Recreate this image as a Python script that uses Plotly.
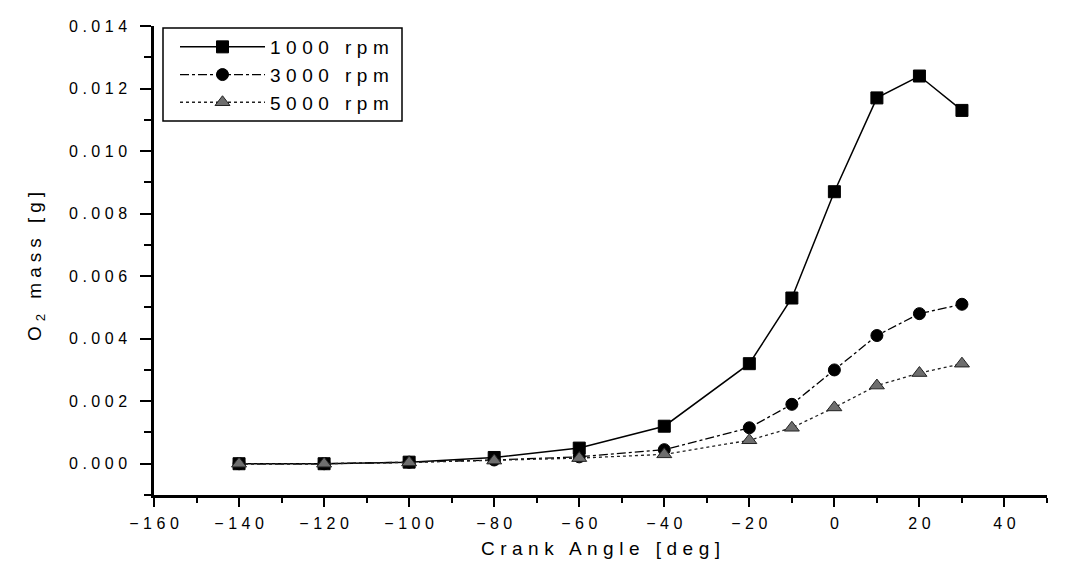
import plotly.graph_objects as go

# ---- data ----
crank_angle = [-140, -120, -100, -80, -60, -40, -20, -10, 0, 10, 20, 30]
o2_1000 = [0.0, 0.0, 0.00005, 0.0002, 0.0005, 0.0012, 0.0032, 0.0053, 0.0087, 0.0117, 0.0124, 0.0113]
o2_3000 = [0.0, 0.0, 0.00005, 0.00012, 0.00022, 0.00045, 0.00115, 0.0019, 0.0030, 0.0041, 0.0048, 0.0051]
o2_5000 = [0.0, 0.0, 0.00004, 0.0001, 0.00018, 0.0003, 0.00075, 0.00115, 0.0018, 0.0025, 0.0029, 0.0032]
series_names = ["1000 rpm", "3000 rpm", "5000 rpm"]

FONT = "Liberation Sans, Arial, sans-serif"

fig = go.Figure()
fig.add_trace(go.Scatter(
    x=crank_angle, y=o2_1000, name=series_names[0], mode="lines+markers",
    line=dict(color="black", width=1.5, dash="solid"),
    marker=dict(symbol="square", size=12, color="black", line=dict(color="black", width=1)),
))
fig.add_trace(go.Scatter(
    x=crank_angle, y=o2_3000, name=series_names[1], mode="lines+markers",
    line=dict(color="black", width=1.3, dash="dashdot"),
    marker=dict(symbol="circle", size=12, color="black", line=dict(color="black", width=1)),
))
fig.add_trace(go.Scatter(
    x=crank_angle, y=o2_5000, name=series_names[2], mode="lines+markers",
    line=dict(color="#222222", width=1.3, dash="dot"),
    marker=dict(symbol="triangle-up", size=13, color="#6e6e6e", line=dict(color="#222222", width=1)),
))

W, H = 1068, 571
ML, MR, MT, MB = 154, 21, 26, 76
PW, PH = W - ML - MR, H - MT - MB

def px_x(px):
    return (px - ML) / PW

def px_y(py):
    return (H - MB - py) / PH

fig.update_layout(
    width=W, height=H,
    margin=dict(l=ML, r=MR, t=MT, b=MB, pad=0),
    plot_bgcolor="white", paper_bgcolor="white",
    font=dict(family=FONT, color="black"),
    showlegend=True,
    legend=dict(
        x=px_x(175), y=px_y(28), xanchor="left", yanchor="top",
        font=dict(family=FONT, size=19, color="black"),
        bgcolor="rgba(0,0,0,0)", borderwidth=0, itemwidth=85,
        tracegroupgap=0,
    ),
    shapes=[dict(
        type="rect", xref="paper", yref="paper",
        x0=px_x(163), x1=px_x(402), y0=px_y(121), y1=px_y(28),
        line=dict(color="black", width=1.5), fillcolor="rgba(0,0,0,0)", layer="above",
    )],
)

fig.update_xaxes(
    range=[-160, 50], dtick=20, tick0=0,
    showline=True, linecolor="black", linewidth=2.5, mirror=False,
    showgrid=False, zeroline=False,
    ticks="outside", ticklen=9, tickwidth=2, tickcolor="black",
    ticklabelstandoff=3,
    minor=dict(dtick=10, ticks="outside", ticklen=5, tickwidth=1.5, tickcolor="black", showgrid=False),
    tickfont=dict(family=FONT, size=16, color="black"),
    title=dict(text="Crank Angle [deg]", font=dict(family=FONT, size=19, color="black"), standoff=11),
    automargin=False,
)
fig.update_yaxes(
    range=[-0.001, 0.014], dtick=0.002, tick0=0, tickformat=".3f",
    showline=True, linecolor="black", linewidth=2.5, mirror=False,
    showgrid=False, zeroline=False,
    ticks="outside", ticklen=11, tickwidth=2, tickcolor="black",
    ticklabelstandoff=10,
    minor=dict(dtick=0.001, ticks="outside", ticklen=7, tickwidth=1.5, tickcolor="black", showgrid=False),
    tickfont=dict(family=FONT, size=16, color="black"),
    title=dict(text="O<sub>2</sub> mass [g]", font=dict(family=FONT, size=19, color="black"), standoff=41),
    automargin=False,
)

post = """
var gd = document.getElementById('{plot_id}');
function ls(sel, px, mode){
  gd.querySelectorAll(sel).forEach(function(t){
    t.style.letterSpacing = px + 'px';
    if(mode === 'middle'){ t.setAttribute('dx', px/2); }
    if(mode === 'end'){ t.setAttribute('dx', px); }
  });
}
gd.querySelectorAll('.legend [clip-path]').forEach(function(e){ e.removeAttribute('clip-path'); });
ls('.xtick text', 4.5, 'middle');
ls('.ytick text', 4.5, 'end');
ls('.xtitle', 5.5, 'middle');
ls('.ytitle', 5, 'middle');
ls('.legendtext', 5.5, 'start');
var yt = gd.querySelector('.ytitle');
if (yt) {
  var tr = yt.getAttribute('transform') || '';
  yt.setAttribute('transform', 'translate(0,6) ' + tr);
}
"""

fig.write_html("out.html", post_script=post)
